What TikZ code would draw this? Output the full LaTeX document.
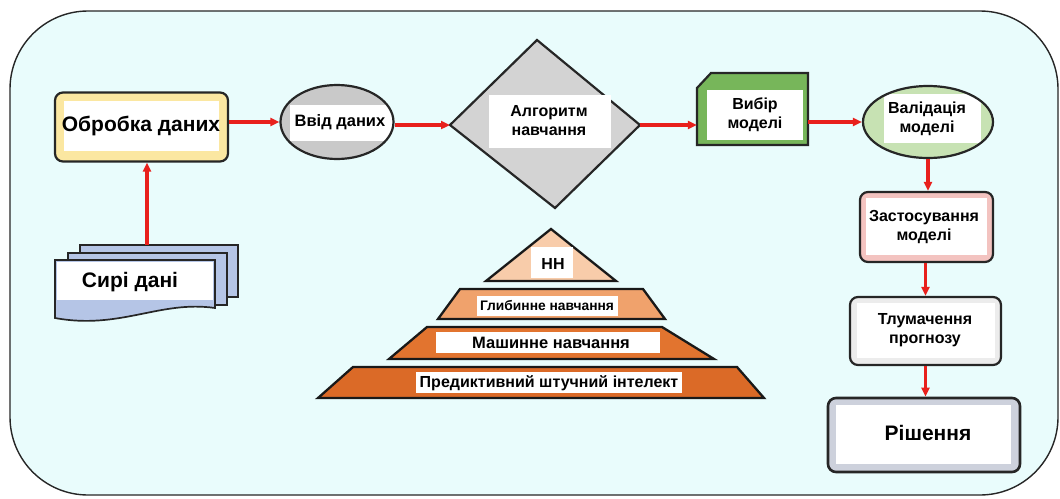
\documentclass[tikz,border=0pt]{standalone}
\usepackage{fontspec}
\setmainfont{Liberation Sans}
\usetikzlibrary{shapes.geometric,arrows.meta}
\definecolor{bgc}{HTML}{E9FCFC}
\definecolor{yelc}{HTML}{FBE7A1}
\definecolor{grayc}{HTML}{C9C9C9}
\definecolor{dgray}{HTML}{D3D3D3}
\definecolor{grnc}{HTML}{77B65A}
\definecolor{lgrn}{HTML}{C7E2B3}
\definecolor{pinkc}{HTML}{F3C3C0}
\definecolor{tgray}{HTML}{ECECEC}
\definecolor{rgray}{HTML}{CDD1DC}
\definecolor{bluec}{HTML}{B5C5E6}
\definecolor{peach}{HTML}{F8CCAA}
\definecolor{or2}{HTML}{F0A26C}
\definecolor{or3}{HTML}{E2742F}
\definecolor{or4}{HTML}{DB6A27}
\definecolor{arrc}{HTML}{E8201C}
\begin{document}
\begin{tikzpicture}[x=1pt,y=-1pt,
  flow/.style={draw=arrc, line width=3.4pt, -{Triangle[length=9pt,width=8pt]}},
  outl/.style={draw=black!85, line width=2.2pt},
  rbox/.style={outl, rectangle, rounded corners=8pt, inner sep=0pt},
  lbl/.style={inner sep=0pt, align=center, font=\bfseries\fontsize{16}{19}\selectfont},
  biglbl/.style={inner sep=0pt, align=center, font=\bfseries\fontsize{21}{24}\selectfont},
  pyr/.style={draw=black!90, line width=2.3pt, line join=miter},
  plbl/.style={inner sep=0pt, font=\bfseries\fontsize{16}{18}\selectfont}
]
\useasboundingbox (0,0) rectangle (1060,498);
% frame
\draw[fill=bgc, draw=black!85, line width=1.4pt, rounded corners=78pt] (10,11) rectangle (1058,495);

% Обробка даних
\node[rbox, fill=yelc, minimum width=173pt, minimum height=69pt] (obr) at (141.5,127) {};
\fill[white] (64,101) rectangle (219,151);
\node[biglbl] (obrt) at (141,126) {Обробка даних};

% Ввід даних
\node[ellipse, fill=grayc, minimum width=113pt, minimum height=74pt, inner sep=0pt] (vvidbg) at (337,122) {};
\begin{scope}
\clip (337,122) ellipse (56.5 and 37);
\fill[white] (290,105) rectangle (395,141);
\end{scope}
\node[ellipse, outl, minimum width=113pt, minimum height=74pt, inner sep=0pt] (vvid) at (337,122) {};
\node[lbl, font=\bfseries\fontsize{16.5}{18}\selectfont] (vvidt) at (340,122) {Ввід даних};

% Алгоритм навчання (slightly skewed diamond)
\coordinate (algW) at (450,125);
\coordinate (algN) at (537,40);
\coordinate (algE) at (640,125);
\coordinate (algS) at (555,208);
\path[outl, fill=dgray, line join=miter] (algW) -- (algN) -- (algE) -- (algS) -- cycle;
\fill[white] (489,95) rectangle (611,148);
\node[lbl] (alg) at (549,121) {Алгоритм\\навчання};

% Вибір моделі
\path[outl, fill=grnc] (697,88) -- (711,73) -- (808,73) -- (808,145) -- (697,145) -- cycle;
\node[inner sep=0pt, minimum width=111pt, minimum height=72pt] (vyb) at (752.5,109) {};
\fill[white] (707,90) rectangle (803,140);
\node[lbl] (vybt) at (755,115) {Вибір\\моделі};

% Валідація моделі
\node[ellipse, fill=lgrn, minimum width=130pt, minimum height=72pt, inner sep=0pt] (valbg) at (928,122) {};
\begin{scope}
\clip (928,122) ellipse (65 and 36);
\fill[white] (884,94) rectangle (981,143);
\end{scope}
\node[ellipse, outl, minimum width=130pt, minimum height=72pt, inner sep=0pt] (val) at (928,122) {};
\node[lbl] (valt) at (927,119) {Валідація\\моделі};

% Застосування моделі
\node[rbox, fill=pinkc, minimum width=133pt, minimum height=70pt] (zast) at (926.5,227) {};
\fill[white] (866,198) rectangle (987,255);
\node[lbl] (zastt) at (924,227) {Застосування\\моделі};

% Тлумачення прогнозу
\node[rbox, fill=tgray, minimum width=151pt, minimum height=68pt] (tlum) at (925.5,331) {};
\fill[white] (857,303) rectangle (995,358);
\node[lbl] (tlumt) at (925,330) {Тлумачення\\прогнозу};

% Рішення
\node[rbox, line width=2.6pt, fill=rgray, minimum width=192pt, minimum height=74pt] (rish) at (924,435) {};
\fill[white] (836,405) rectangle (1011,464);
\node[biglbl] (risht) at (928,433) {Рішення};

% Сирі дані
\path[outl, line width=1.7pt, fill=bluec] (80,245) rectangle (238,297);
\path[outl, line width=1.7pt, fill=bluec] (68,253) rectangle (227,305);
\path[outl, line width=1.7pt, fill=bluec] (55,260) -- (215,260) -- (215,308) .. controls (160,300) and (120,330) .. (55,318) -- cycle;
\fill[white] (57,262) rectangle (213,300);
\coordinate (syritop) at (147,245);
\node[biglbl] (syrit) at (130,282) {Сирі дані};

% Pyramid
\path[pyr, fill=peach] (551,229) -- (616,281) -- (486,281) -- cycle;
\fill[white] (531,247) rectangle (573,278);
\node[plbl] (nn) at (553,264) {НН};

\path[pyr, fill=or2] (460,289) -- (643,289) -- (665,319) -- (438,319) -- cycle;
\fill[white] (477,296) rectangle (618,316);
\node[plbl, font=\bfseries\fontsize{13.8}{16}\selectfont] (glyb) at (547,306) {Глибинне навчання};

\path[pyr, fill=or3] (427,327) -- (662,327) -- (714,359) -- (389,359) -- cycle;
\fill[white] (436,332) rectangle (660,353);
\node[plbl, font=\bfseries\fontsize{16.5}{18}\selectfont] (mash) at (551,343) {Машинне навчання};

\path[pyr, fill=or4] (353,367) -- (737,367) -- (764,398) -- (318,398) -- cycle;
\fill[white] (416,372) rectangle (682,393);
\node[plbl] (pred) at (549,383) {Предиктивний штучний інтелект};

% connectors
\draw[flow] (obr.east |- vvid.west) -- (vvid.west);
\draw[flow] (vvid.east |- algW) -- (algW);
\draw[flow] (algE) -- (vyb.west |- algE);
\draw[flow] (vyb.east |- val.west) -- (val.west);
\draw[flow] (val.south) -- (val.south |- zast.north);
\draw[flow] (zast.south -| tlum.north) -- (tlum.north);
\draw[flow] (tlum.south) -- (tlum.south |- rish.north);
\draw[flow] (syritop) -- (obr.south -| syritop);
\end{tikzpicture}
\end{document}
